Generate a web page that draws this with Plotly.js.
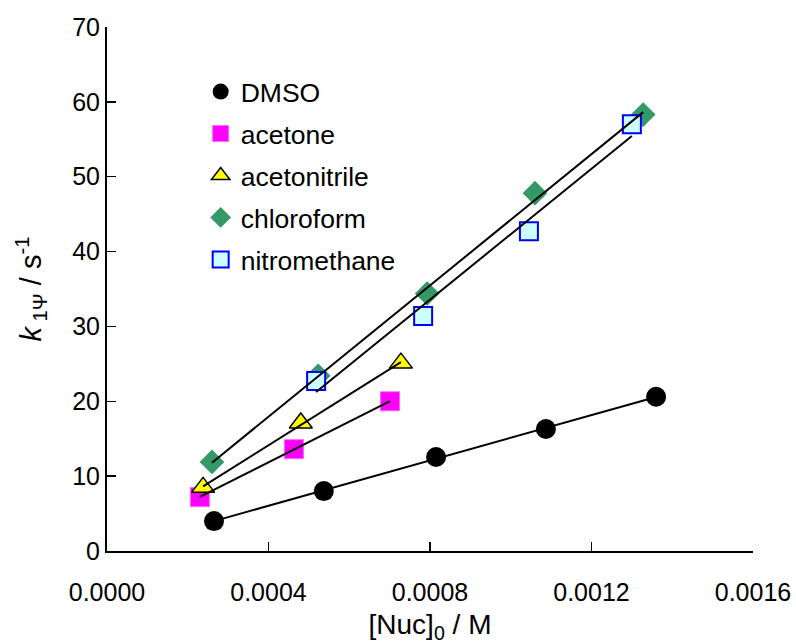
<!DOCTYPE html>
<html><head><meta charset="utf-8">
<script src="https://cdn.plot.ly/plotly-3.0.1.min.js"></script>
<style>html,body{margin:0;padding:0;background:#fff;}</style>
</head><body>
<div id="chart" style="width:796px;height:644px;"></div>
<script>
const seriesNames = ["DMSO", "acetone", "acetonitrile", "chloroform", "nitromethane"];
const dmsoX = [0.000265, 0.000537, 0.000815, 0.001087, 0.00136];
const dmsoY = [4.0, 8.0, 12.55, 16.3, 20.6];
const acetoneX = [0.000230, 0.000463, 0.000701];
const acetoneY = [7.2, 13.6, 20.0];
const acnX = [0.000238, 0.000480, 0.000728];
const acnY = [8.5, 17.1, 25.1];
const chlX = [0.000260, 0.000523, 0.000793, 0.00106, 0.001328];
const chlY = [11.9, 23.4, 34.4, 47.8, 58.3];
const nitroX = [0.000518, 0.000783, 0.001045, 0.0013];
const nitroY = [22.7, 31.4, 42.7, 57.0];
const xTicks = [0, 0.0004, 0.0008, 0.0012, 0.0016];
const yTicks = [0, 10, 20, 30, 40, 50, 60, 70];

const styles = [
  {symbol: "circle", size: 20, color: "#000000", line: {color: "#000000", width: 0}},
  {symbol: "square", size: 19, color: "#ff00ff", line: {color: "#ff66ff", width: 1}},
  {symbol: "triangle-up", size: 20, color: "#ffff00", line: {color: "#000000", width: 1.5}},
  {symbol: "diamond", size: 19, color: "#339966", line: {color: "#339966", width: 0}},
  {symbol: "square", size: 18, color: "#ccffff", line: {color: "#0000ff", width: 2}}
];
const xs = [dmsoX, acetoneX, acnX, chlX, nitroX];
const ys = [dmsoY, acetoneY, acnY, chlY, nitroY];

function fit(x, y) {
  const n = x.length;
  const mx = x.reduce((a, b) => a + b, 0) / n;
  const my = y.reduce((a, b) => a + b, 0) / n;
  let sxy = 0, sxx = 0;
  for (let i = 0; i < n; i++) { sxy += (x[i] - mx) * (y[i] - my); sxx += (x[i] - mx) ** 2; }
  const b = sxy / sxx, a = my - b * mx;
  const x0 = Math.min(...x), x1 = Math.max(...x);
  return {x: [x0, x1], y: [a + b * x0, a + b * x1]};
}

const traces = [];
for (let i = 0; i < 5; i++) {
  traces.push({
    x: xs[i], y: ys[i], type: "scatter", mode: "markers", name: seriesNames[i],
    legendgroup: "g" + i, cliponaxis: false,
    marker: {symbol: styles[i].symbol, size: styles[i].size, color: styles[i].color, line: styles[i].line}
  });
}
for (let i = 0; i < 5; i++) {
  const f = fit(xs[i], ys[i]);
  traces.push({x: f.x, y: f.y, type: "scatter", mode: "lines", legendgroup: "g" + i,
    showlegend: false, hoverinfo: "skip", line: {color: "#000000", width: 2}});
}

const font = {family: "Liberation Sans, Arial, sans-serif", color: "#000000"};
const layout = {
  width: 796, height: 644,
  margin: {l: 107, r: 43, t: 27, b: 93},
  paper_bgcolor: "#ffffff", plot_bgcolor: "#ffffff",
  font: Object.assign({size: 24}, font),
  showlegend: true,
  legend: {x: 0.145, y: 0.922, xanchor: "left", yanchor: "top", bgcolor: "rgba(0,0,0,0)",
    font: Object.assign({size: 26.5}, font), traceorder: "grouped", tracegroupgap: 4.5, itemsizing: "trace",
    itemwidth: 30},
  xaxis: {
    range: [0, 0.0016], tickvals: xTicks, ticktext: xTicks.map(v => v.toFixed(4)),
    showgrid: false, zeroline: false, showline: true, linecolor: "#000000", linewidth: 2,
    ticks: "inside", ticklen: 9, tickwidth: 1.5, tickcolor: "#000000",
    ticklabelstandoff: 18,
    tickfont: Object.assign({size: 25}, font),
    title: {text: "[Nuc]<sub>0</sub> / M", font: Object.assign({size: 28}, font), standoff: 15}
  },
  yaxis: {
    range: [0, 70], tickvals: yTicks, ticktext: yTicks.map(String),
    showgrid: false, zeroline: false, showline: true, linecolor: "#000000", linewidth: 2,
    ticks: "inside", ticklen: 9, tickwidth: 1.5, tickcolor: "#000000",
    ticklabelstandoff: 0,
    tickfont: Object.assign({size: 25}, font),
    title: {text: "<i>k</i><sub> 1Ψ</sub> / s<sup>-1</sup>", font: Object.assign({size: 29}, font), standoff: 22}
  }
};
Plotly.newPlot("chart", traces, layout, {displayModeBar: false, staticPlot: true});
</script>
</body></html>
